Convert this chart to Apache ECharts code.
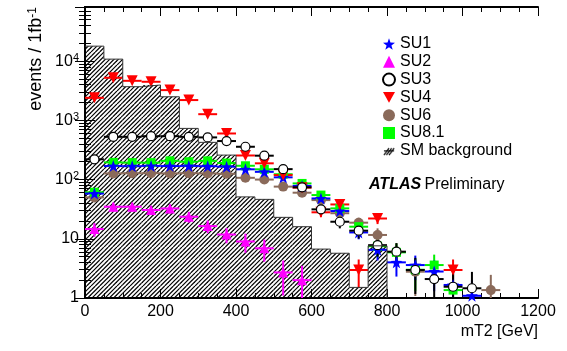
<!DOCTYPE html>
<html>
<head>
<meta charset="utf-8">
<script src="https://cdn.jsdelivr.net/npm/echarts@6/dist/echarts.min.js"></script>
<style>
html,body{margin:0;padding:0;background:#fff}
#chart{width:567px;height:351px}
</style>
</head>
<body>
<div id="chart"></div>
<script>
// bin centres of the 50 GeV mT2 bins
const binCenters = [25,75,125,175,225,275,325,375,425,475,525,575,625,675,725,775,825,875,925,975,1025,1075];

// signal points, events / 1fb-1 (null = not shown)
const su1 = [58,169,168,170,169,170,168,165,149,135,109,78,48,29.4,12.8,6.5,4.0,3.6,2.8,1.66,1.09,null];
const su1Err = [6,11,11,11,11,11,11,11,10,10,9,7.5,6,4.5,3,2.2,1.7,1.6,1.5,1.1,0.9,null];
const su2 = [14.6,34.8,34.8,30.6,32.5,23.6,16.4,11.8,9.0,6.9,2.7,2.0,null,null,null,null,null,null,null,null,null,null];
const su2Err = [3.8,5.9,5.9,5.5,5.7,4.9,4,3.4,3.2,2.8,1.6,1.5,null,null,null,null,null,null,null,null,null,null];
const su3 = [220,527,527,540,540,527,515,447,358,253,150,74,31.4,19.4,13.7,7.8,6.05,2.97,2.09,1.55,1.46,null];
const su3Err = [15,23,23,23,23,23,23,21,19,16,12,8.5,5.6,4.4,3.6,2.8,2.4,1.8,1.5,1.3,1.3,null];
const su4 = [2400,5230,4650,4480,3240,2200,1270,600,255,188,119,73,28,38,2.97,22,null,null,null,2.97,null,null];
const su4Err = [45,66,63,62,52,43,33,23,15,13,10,8,4.8,5.8,1.5,4.3,null,null,null,1.5,null,null];
const su6 = [50,127,128,128,127,128,127,125,107,100,76,60,45,27,18.7,11.6,6,2.78,null,null,null,1.36];
const su6Err = [7,11,11,11,11,11,11,11,10,10,8.7,7.7,6.7,5,4,3.4,2.4,1.7,null,null,null,1.1];
const su81 = [61,195,193,193,207,200,207,190,171,149,123,86,54.7,32.6,16,7.5,5.9,3.0,3.6,1.36,null,null];
const su81Err = [7,14,14,14,14,14,14,14,13,12,11,9,7.5,5.8,3.7,2.7,2.4,1.7,1.8,1.2,null,null];

// SM background histogram
const smLowEdges = [0,50,100,150,200,250,300,350,400,450,500,550,600,650,700,750];
const smValues = [17900,10800,3700,3950,2500,731,425,259,51,46.3,23,16,6.7,5.7,1.51,7.6];
const binWidth = 50;

const yTickLabels = {1:'1', 10:'10', 100:'{b|10}{s|2}', 1000:'{b|10}{s|3}', 10000:'{b|10}{s|4}'};
const xTicks = {min:0, max:1200, interval:200};

const font = "'Liberation Sans', Arial, Helvetica, sans-serif";
const starPath = 'path://M0,-10L2.35,-3.24L9.51,-3.09L3.8,1.24L5.88,8.09L0,4L-5.88,8.09L-3.8,1.24L-9.51,-3.09L-2.35,-3.24Z';
const downTri = 'path://M0,0L10,0L5,9Z';

function hatch(size, lw) {
    const c = document.createElement('canvas');
    c.width = size; c.height = size;
    const g = c.getContext('2d');
    g.strokeStyle = '#000';
    g.lineWidth = lw;
    for (let k = 0; k <= 6; k++) {
        const s = k * size / 3;
        g.beginPath(); g.moveTo(s, 0); g.lineTo(s - size, size); g.stroke();
    }
    return c;
}
const hatchCanvas = hatch(13, 1.2);

function legendIcon() {
    const c = document.createElement('canvas');
    c.width = 14; c.height = 12;
    const g = c.getContext('2d');
    g.strokeStyle = '#000'; g.lineWidth = 1.3;
    [[1,11,7,3],[4,11,10,3],[7,11,13,3]].forEach(l => {
        g.beginPath(); g.moveTo(l[0], l[1]); g.lineTo(l[2], l[3]); g.stroke();
    });
    g.beginPath(); g.moveTo(1, 6); g.lineTo(13, 6); g.stroke();
    return 'image://' + c.toDataURL();
}

function points(vals, errs) {
    const out = [];
    binCenters.forEach((x, i) => {
        if (vals[i] != null) out.push([x, vals[i], errs[i] || 0]);
    });
    return out;
}

function signal(name, vals, errs, symbol, size, color, lineColor, extra) {
    const data = points(vals, errs);
    return [{
        name: name + ' err',
        type: 'custom',
        clip: true,
        data: data,
        encode: {x: 0, y: 1},
        renderItem: function (params, api) {
            const x = api.value(0), y = api.value(1), e = api.value(2);
            const l = api.coord([x - binWidth / 2, y]);
            const r = api.coord([x + binWidth / 2, y]);
            const t = api.coord([x, y + e]);
            const b = api.coord([x, Math.max(y - e, 1)]);
            const st = {stroke: lineColor, lineWidth: 2};
            return {type: 'group', children: [
                {type: 'line', shape: {x1: l[0], y1: l[1], x2: r[0], y2: r[1]}, style: st},
                {type: 'line', shape: {x1: t[0], y1: t[1], x2: b[0], y2: b[1]}, style: st}
            ]};
        }
    }, Object.assign({
        name: name,
        type: 'scatter',
        symbol: symbol,
        symbolSize: size,
        data: data.map(d => [d[0], d[1]]),
        itemStyle: {color: color, opacity: 1}
    }, extra || {})];
}

const chart = echarts.init(document.getElementById('chart'));

const yAxisBase = {
    type: 'log', logBase: 10, min: 1, max: 82000,
    axisLine: {show: true, lineStyle: {color: '#000', width: 2}},
    axisTick: {show: true, inside: true, length: 10, lineStyle: {color: '#000', width: 1}},
    minorTick: {show: true, splitNumber: 9, length: 6, lineStyle: {color: '#000', width: 1}},
    splitLine: {show: false}
};
const xAxisBase = {
    type: 'value', min: xTicks.min, max: xTicks.max, interval: xTicks.interval,
    axisLine: {show: true, onZero: false, lineStyle: {color: '#000', width: 2}},
    axisTick: {show: true, inside: true, length: 9, lineStyle: {color: '#000', width: 1}},
    minorTick: {show: true, splitNumber: 4, length: 5, lineStyle: {color: '#000', width: 1}},
    splitLine: {show: false}
};

const series = [
    {
        name: 'SM background',
        type: 'custom',
        clip: true,
        data: smLowEdges.map((x, i) => [x, x + binWidth, smValues[i]]),
        encode: {x: [0, 1], y: 2},
        itemStyle: {color: '#000'},
        renderItem: function (params, api) {
            const p0 = api.coord([api.value(0), api.value(2)]);
            const p1 = api.coord([api.value(1), 1]);
            return {type: 'rect', shape: {x: p0[0], y: p0[1], width: p1[0] - p0[0], height: p1[1] - p0[1]},
                style: {fill: {image: hatchCanvas, repeat: 'repeat'}, stroke: null}};
        }
    },
    {
        name: 'SM outline',
        type: 'line',
        step: 'end',
        symbol: 'none',
        data: smLowEdges.map((x, i) => [x, smValues[i]]).concat([[800, 1]]),
        lineStyle: {color: '#333', width: 1}
    }
].concat(
    signal('SU6', su6, su6Err, 'circle', 10, '#8a6a5a', '#8a6a5a'),
    signal('SU8.1', su81, su81Err, 'rect', 9, '#00ff00', '#00ee00'),
    signal('SU1', su1, su1Err, starPath, 12, '#0000ff', '#0000ff'),
    signal('SU2', su2, su2Err, 'triangle', 10, '#ff00ff', '#ff00ff'),
    signal('SU4', su4, su4Err, downTri, 11, '#ff0000', '#ff0000'),
    signal('SU3', su3, su3Err, 'circle', 9, '#ffffff', '#000000',
        {itemStyle: {color: '#ffffff', borderColor: '#000', borderWidth: 1.2, opacity: 1}})
);

chart.setOption({
    animation: false,
    backgroundColor: '#fff',
    textStyle: {fontFamily: font},
    grid: {left: 85, right: 29, top: 7, bottom: 53},
    xAxis: [
        Object.assign({}, xAxisBase, {position: 'bottom',
            axisLabel: {fontSize: 16, color: '#000', margin: 6, fontFamily: font, formatter: v => String(v)}}),
        Object.assign({}, xAxisBase, {position: 'top', axisLabel: {show: false}})
    ],
    yAxis: [
        Object.assign({}, yAxisBase, {position: 'left',
            axisLabel: {
                fontSize: 16, color: '#000', margin: 6, fontFamily: font, showMaxLabel: false,
                formatter: v => yTickLabels[Math.round(v)] || '',
                rich: {
                    b: {fontSize: 16, lineHeight: 18, color: '#000', fontFamily: font},
                    s: {fontSize: 11, lineHeight: 12, verticalAlign: 'top', color: '#000', fontFamily: font}
                }
            }}),
        Object.assign({}, yAxisBase, {position: 'right', axisLabel: {show: false}})
    ],
    legend: {
        orient: 'vertical', left: 377, top: 31,
        itemWidth: 12, itemHeight: 12, itemGap: 1.8,
        selectedMode: false,
        textStyle: {fontSize: 16, lineHeight: 16, color: '#000', fontFamily: font},
        data: ['SU1', 'SU2', 'SU3', 'SU4', 'SU6', 'SU8.1', {name: 'SM background', icon: legendIcon()}]
    },
    graphic: [
        {type: 'text', x: 36, y: 7, rotation: Math.PI / 2,
            style: {text: 'events / 1fb{s|-1}', fontSize: 18, fill: '#000', fontFamily: font,
                align: 'right', verticalAlign: 'middle',
                rich: {s: {fontSize: 12, verticalAlign: 'top', fill: '#000', fontFamily: font}}}},
        {type: 'text', right: 29, top: 324,
            style: {text: 'mT2 [GeV]', fontSize: 16, fill: '#000', fontFamily: font}},
        {type: 'text', left: 369, top: 177,
            style: {text: '{a|ATLAS} {p|Preliminary}', fill: '#000',
                rich: {
                    a: {fontSize: 16, fontWeight: 'bold', fontStyle: 'italic', fontFamily: font, fill: '#000'},
                    p: {fontSize: 16, fontFamily: font, fill: '#000'}
                }}}
    ],
    series: series
});
</script>
</body>
</html>
